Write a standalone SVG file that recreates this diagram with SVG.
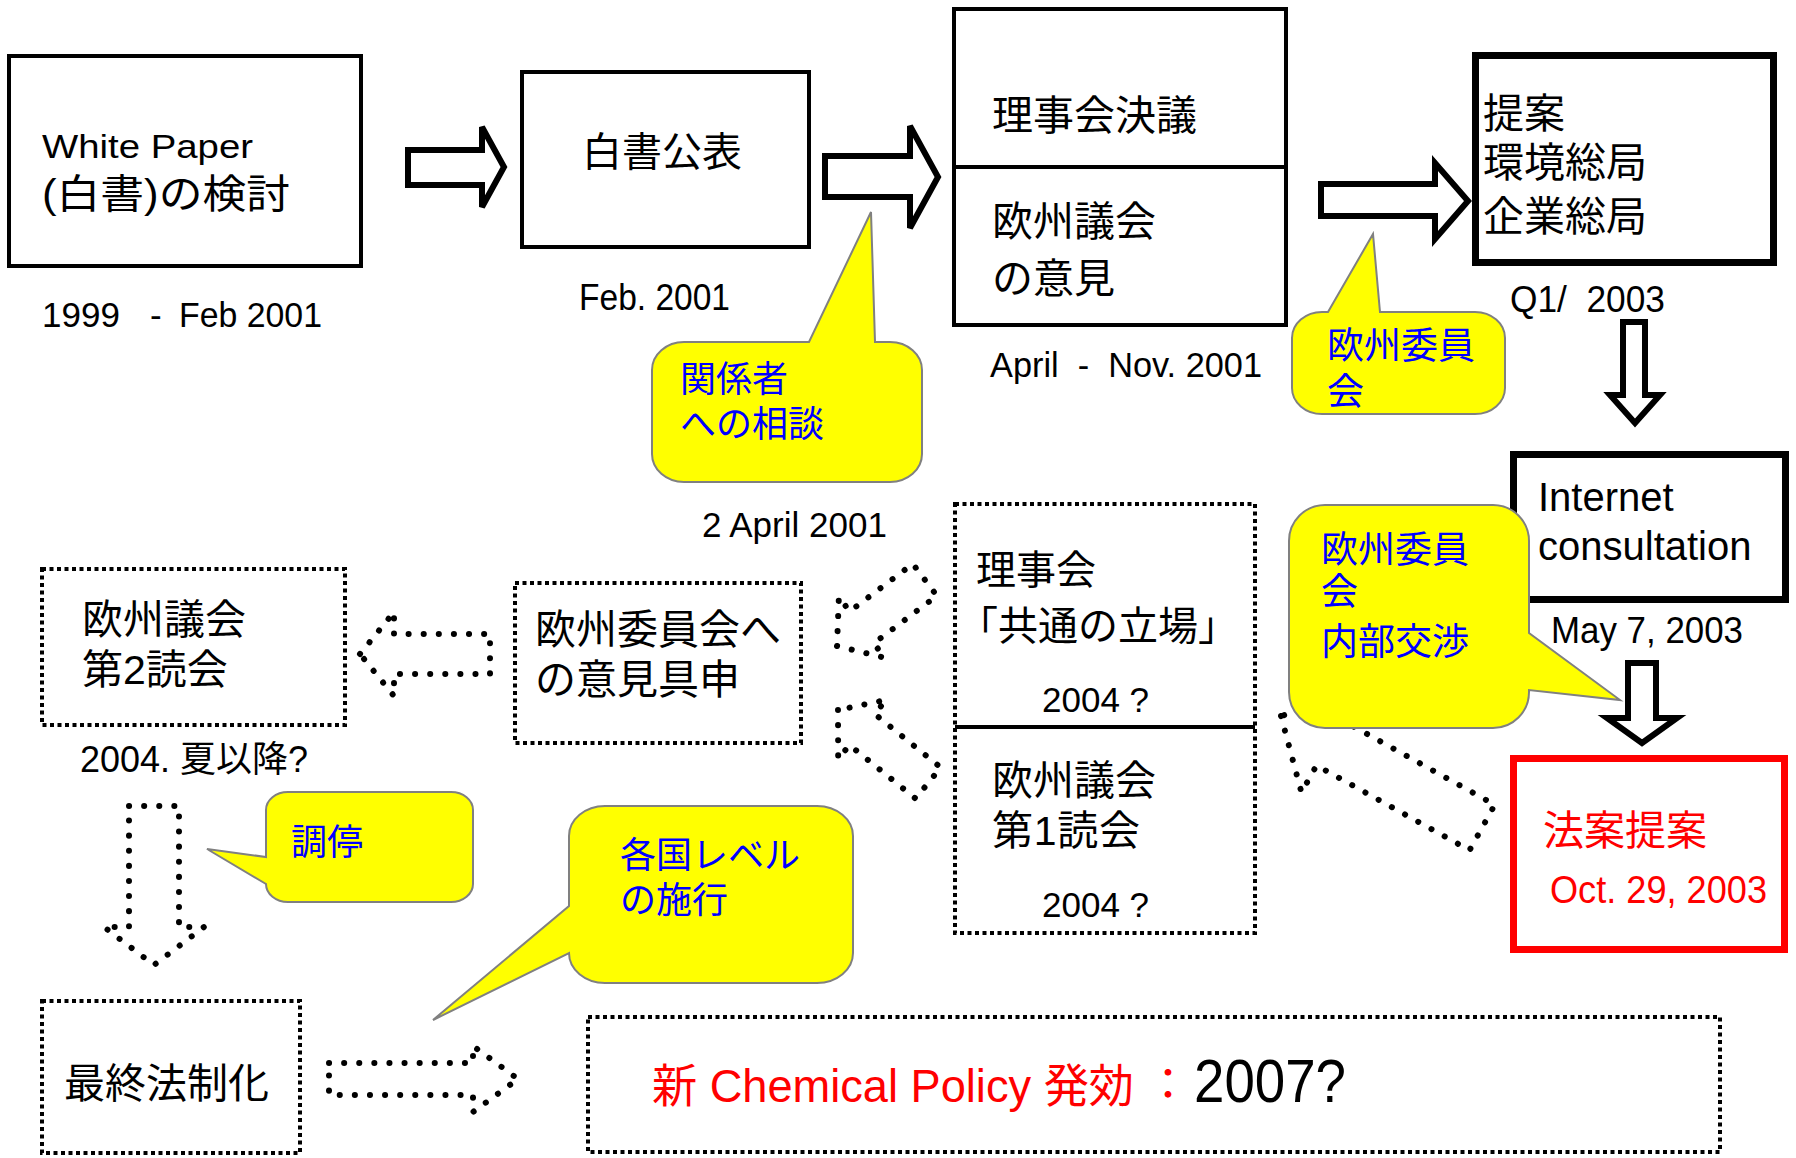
<svg xmlns="http://www.w3.org/2000/svg" width="1796" height="1158" viewBox="0 0 1796 1158">
<style>
text{font-family:"Liberation Sans","Noto Sans CJK JP",sans-serif;fill:#000}
.pre{white-space:pre}
.box{fill:#fff;stroke:#000;stroke-width:4}
.thick{fill:#fff;stroke:#000;stroke-width:7}
.redbox{fill:#fff;stroke:#f00;stroke-width:7}
.dbox{fill:none;stroke:#000;stroke-width:4;stroke-dasharray:4 3.5}
.arrow{fill:#fff;stroke:#000;stroke-width:6}
.darrow{fill:none;stroke:#000;stroke-width:6;stroke-dasharray:0.1 15;stroke-linecap:round;stroke-linejoin:round}
.call{fill:#ff0;stroke:#808080;stroke-width:2}
.b{fill:#00f}
.r{fill:#f00}
</style>
<rect width="1796" height="1158" fill="#fff"/>

<g id="whitepaper">
<rect class="box" x="9" y="56" width="352" height="210"/>
<text x="42" y="158" font-size="33" textLength="211" lengthAdjust="spacingAndGlyphs">White Paper</text>
<text x="42" y="208" font-size="40" textLength="248" lengthAdjust="spacingAndGlyphs">(白書)の検討</text>
<text x="42" y="327" font-size="35">1999</text>
<text x="150" y="327" font-size="35">-</text>
<text x="179" y="327" font-size="35" textLength="143" lengthAdjust="spacingAndGlyphs">Feb 2001</text>
</g>

<g id="hakusho">
<rect class="box" x="522" y="72" width="287" height="175"/>
<text x="582" y="166" font-size="40">白書公表</text>
<text x="579" y="310" font-size="36" textLength="151" lengthAdjust="spacingAndGlyphs">Feb. 2001</text>
</g>

<g id="council">
<rect class="box" x="954" y="9" width="332" height="316"/>
<line x1="954" y1="167" x2="1286" y2="167" stroke="#000" stroke-width="4"/>
<text x="992" y="130" font-size="41">理事会決議</text>
<text x="992" y="236" font-size="41">欧州議会</text>
<text x="992" y="293" font-size="41">の意見</text>
<text class="pre" x="990" y="377" font-size="35" textLength="272" lengthAdjust="spacingAndGlyphs">April  -  Nov. 2001</text>
</g>

<g id="teian">
<rect class="thick" x="1475.5" y="55.5" width="298" height="207"/>
<text x="1483" y="128" font-size="41">提案</text>
<text x="1483" y="177" font-size="41">環境総局</text>
<text x="1483" y="231" font-size="41">企業総局</text>
<text class="pre" x="1510" y="312" font-size="36" textLength="155" lengthAdjust="spacingAndGlyphs">Q1/  2003</text>
</g>

<g id="internet">
<rect class="thick" x="1513.5" y="454.5" width="272" height="145"/>
<text x="1538" y="511" font-size="40">Internet</text>
<text x="1538" y="560" font-size="40">consultation</text>
<text x="1551" y="643" font-size="37" textLength="192" lengthAdjust="spacingAndGlyphs">May 7, 2003</text>
</g>

<g id="hoan">
<rect class="redbox" x="1513.5" y="758.5" width="271" height="191"/>
<text class="r" x="1543" y="845" font-size="41">法案提案</text>
<text class="r" x="1550" y="903" font-size="38" textLength="217" lengthAdjust="spacingAndGlyphs">Oct. 29, 2003</text>
</g>

<g id="rijikai2">
<rect class="dbox" x="955" y="504" width="300" height="429"/>
<line x1="955" y1="727" x2="1255" y2="727" stroke="#000" stroke-width="4"/>
<text x="976" y="584" font-size="40">理事会</text>
<text x="958" y="640" font-size="40">「共通の立場」</text>
<text x="1042" y="712" font-size="35">2004 ?</text>
<text x="992" y="795" font-size="41">欧州議会</text>
<text x="992" y="845" font-size="41" textLength="148" lengthAdjust="spacing">第1読会</text>
<text x="1042" y="917" font-size="35">2004 ?</text>
</g>

<g id="iken">
<rect class="dbox" x="515" y="583" width="286" height="160"/>
<text x="535" y="644" font-size="41">欧州委員会へ</text>
<text x="535" y="694" font-size="41">の意見具申</text>
<text x="702" y="537" font-size="35">2 April 2001</text>
</g>

<g id="second">
<rect class="dbox" x="42" y="569" width="303" height="156"/>
<text x="82" y="634" font-size="41">欧州議会</text>
<text x="82" y="684" font-size="41">第2読会</text>
<text x="80" y="772" font-size="36" textLength="228" lengthAdjust="spacingAndGlyphs">2004. 夏以降?</text>
</g>

<g id="final">
<rect class="dbox" x="42" y="1001" width="258" height="152"/>
<text x="64" y="1098" font-size="41">最終法制化</text>
</g>

<g id="policy">
<rect class="dbox" x="588" y="1017" width="1132" height="135"/>
<text class="r" x="652" y="1102" font-size="46" textLength="482" lengthAdjust="spacingAndGlyphs">新 Chemical Policy 発効</text>
<text class="r" x="1146" y="1100" font-size="44">：</text>
<text x="1194" y="1102" font-size="62" textLength="152" lengthAdjust="spacingAndGlyphs">2007?</text>
</g>

<g id="connectors">
<polygon class="arrow" points="408,150 482,150 482,127 504,167 482,207 482,185 408,185"/>
<polygon class="arrow" points="825,156 910,156 910,126 938,177 910,228 910,197 825,197"/>
<polygon class="arrow" points="1321,184 1435,184 1435,163 1468,201 1435,239 1435,216 1321,216"/>
<polygon class="arrow" points="1623,322 1645,322 1645,395 1660,395 1635,423 1610,395 1623,395"/>
<polygon class="arrow" points="1628,663 1656,663 1656,718 1677,718 1642,743 1607,718 1628,718"/>
<polygon class="darrow" points="360,654 394,612 394,634 490,634 490,674 394,674 394,696"/>
<polygon class="darrow" points="129,806 179,806 179,927 204,927 154,965 104,927 129,927"/>
<polygon class="darrow" points="329,1063 473,1063 473,1046 518,1079 473,1112 473,1095 329,1095"/>
<polygon class="darrow" points="0,0 -31,-38 -31,-20 -110,-20 -110,20 -31,20 -31,38" transform="translate(837,646) rotate(143)"/>
<polygon class="darrow" points="0,0 -31,-38 -31,-20 -116,-20 -116,20 -31,20 -31,38" transform="translate(838,710) rotate(219)"/>
<polygon class="darrow" points="0,0 -55,-57 -55,-26 -230,-26 -230,26 -55,26 -55,57" transform="translate(1281,716) rotate(209)"/>
</g>

<g id="callout-kankeisha">
<path class="call" d="M684,342 L809,342 L871,212 L875,342 L890,342 A32,28 0 0 1 922,370 L922,454 A32,28 0 0 1 890,482 L684,482 A32,28 0 0 1 652,454 L652,370 A32,28 0 0 1 684,342 Z"/>
<text class="b" x="680" y="392" font-size="36">関係者</text>
<text class="b" x="680" y="437" font-size="36">への相談</text>
</g>

<g id="callout-commission">
<path class="call" d="M1322,312 L1328,312 L1373,234 L1380,312 L1475,312 A30,26 0 0 1 1505,338 L1505,388 A30,26 0 0 1 1475,414 L1322,414 A30,26 0 0 1 1292,388 L1292,338 A30,26 0 0 1 1322,312 Z"/>
<text class="b" x="1327" y="359" font-size="37">欧州委員</text>
<text class="b" x="1327" y="405" font-size="37">会</text>
</g>

<g id="callout-internal">
<path class="call" d="M1325,505 L1493,505 A36,36 0 0 1 1529,541 L1529,633 L1620,700 L1529,690 L1529,692 A36,36 0 0 1 1493,728 L1325,728 A36,36 0 0 1 1289,692 L1289,541 A36,36 0 0 1 1325,505 Z"/>
<text class="b" x="1321" y="563" font-size="37">欧州委員</text>
<text class="b" x="1321" y="605" font-size="37">会</text>
<text class="b" x="1321" y="655" font-size="37">内部交渉</text>
</g>

<g id="callout-chotei">
<path class="call" d="M288,792 L451,792 A22,18 0 0 1 473,810 L473,884 A22,18 0 0 1 451,902 L288,902 A22,18 0 0 1 266,884 L207,849 L266,857 L266,810 A22,18 0 0 1 288,792 Z"/>
<text class="b" x="291" y="855" font-size="36">調停</text>
</g>

<g id="callout-kakkoku">
<path class="call" d="M605,806 L817,806 A36,30 0 0 1 853,836 L853,953 A36,30 0 0 1 817,983 L605,983 A36,30 0 0 1 569,953 L433,1020 L569,906 L569,836 A36,30 0 0 1 605,806 Z"/>
<text class="b" x="620" y="868" font-size="36">各国レベル</text>
<text class="b" x="620" y="913" font-size="36">の施行</text>
</g>
</svg>
